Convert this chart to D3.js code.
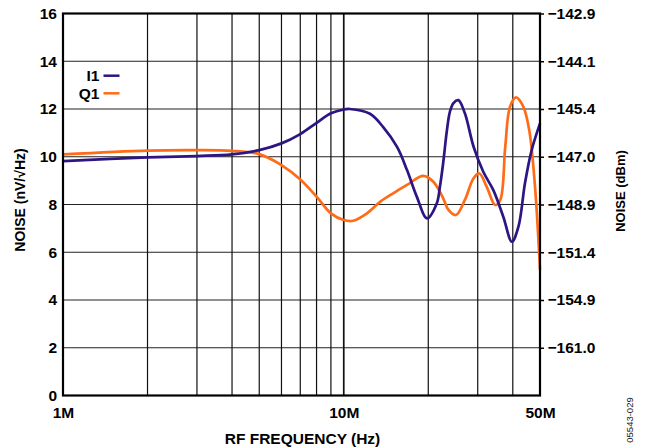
<!DOCTYPE html>
<html>
<head>
<meta charset="utf-8">
<script src="https://cdn.jsdelivr.net/npm/d3@7"></script>
<style>
  html, body { margin: 0; padding: 0; background: #fff; }
  svg { display: block; }
  text { font-family: "Liberation Sans", Arial, Helvetica, sans-serif; }
</style>
</head>
<body>
<svg id="chart" width="645" height="448"></svg>
<script>
// ---- data (frequency in MHz, noise in nV/√Hz) ----
const i1Freq = [1, 2, 3, 4, 5, 6, 7, 8, 9, 10, 10.5, 12.4, 13.8, 15.5, 16.8, 18.2, 19.8, 21.45, 22.0, 22.6, 23.3, 23.9, 24.6, 25.6, 27, 29, 31.4, 34.1, 37, 39.7, 41.9, 44.2, 46.7, 50];
const i1Noise = [9.82, 9.97, 10.03, 10.1, 10.28, 10.56, 10.95, 11.42, 11.82, 11.98, 12.0, 11.8, 11.25, 10.4, 9.44, 8.33, 7.42, 8.05, 8.74, 9.74, 11.1, 11.9, 12.25, 12.37, 11.82, 10.42, 9.37, 8.6, 7.49, 6.44, 7.07, 8.89, 10.28, 11.4];
const q1Freq = [1, 2, 3, 4, 5, 6, 7, 8, 9, 10, 10.8, 12.1, 13.5, 15, 16.8, 19.2, 20.85, 22.6, 23.6, 25.1, 27, 29, 30.4, 32.3, 34.6, 36.1, 37.6, 39.1, 41.1, 43.6, 45.8, 48, 50];
const q1Noise = [10.1, 10.26, 10.28, 10.25, 10.11, 9.65, 9.05, 8.33, 7.63, 7.35, 7.32, 7.63, 8.12, 8.47, 8.82, 9.2, 8.95, 8.26, 7.77, 7.56, 8.19, 9.1, 9.3, 8.74, 7.98, 8.19, 10.42, 12.1, 12.49, 12.1, 11.1, 8.74, 5.26];

const leftTicks = [0, 2, 4, 6, 8, 10, 12, 14, 16];
const rightTickLabels = ["", "\u2212161.0", "\u2212154.9", "\u2212151.4", "\u2212148.9", "\u2212147.0", "\u2212145.4", "\u2212144.1", "\u2212142.9"];
const gridFreqs = [2, 3, 4, 5, 6, 7, 8, 9, 10, 20, 30, 40];
const xTickFreqs = [1, 10, 50];
const xTickLabels = ["1M", "10M", "50M"];
const seriesNames = ["I1", "Q1"];
const seriesColors = ["#2d1683", "#ff6c17"];

// ---- layout ----
const svg = d3.select("#chart");
const margin = { left: 63, right: 105, top: 13.5, bottom: 52.5 };
const W = 645, H = 448;
const x = d3.scaleLog().domain([1, 50]).range([margin.left, W - margin.right]);
const y = d3.scaleLinear().domain([0, 16]).range([H - margin.bottom, margin.top]);
const x0 = x.range()[0], x1 = x.range()[1], y0 = y.range()[0], y1 = y.range()[1];
const FONT = '"Liberation Sans", Arial, sans-serif';

// grid
const g = svg.append("g");
g.selectAll("line.hg").data(leftTicks.slice(1, -1)).enter().append("line")
  .attr("x1", x0).attr("x2", x1)
  .attr("y1", d => y(d)).attr("y2", d => y(d))
  .attr("stroke", "#222").attr("stroke-width", 1.2);
g.selectAll("line.vg").data(gridFreqs).enter().append("line")
  .attr("x1", d => x(d)).attr("x2", d => x(d))
  .attr("y1", y0).attr("y2", y1)
  .attr("stroke", "#111").attr("stroke-width", d => d === 10 ? 1.7 : 1.2);

// curves
const line = d3.line().x(d => x(d[0])).y(d => y(d[1])).curve(d3.curveCatmullRom.alpha(0.5));
const i1Data = i1Freq.map((f, i) => [f, i1Noise[i]]);
const q1Data = q1Freq.map((f, i) => [f, q1Noise[i]]);
svg.append("path").datum(q1Data).attr("d", line)
  .attr("fill", "none").attr("stroke", seriesColors[1]).attr("stroke-width", 2.7);
svg.append("path").datum(i1Data).attr("d", line)
  .attr("fill", "none").attr("stroke", seriesColors[0]).attr("stroke-width", 2.7);

// frame
svg.append("rect").attr("x", x0).attr("y", y1).attr("width", x1 - x0).attr("height", y0 - y1)
  .attr("fill", "none").attr("stroke", "#000").attr("stroke-width", 2.2);

function styleText(sel, size) {
  sel.attr("font-size", size).attr("font-weight", "bold").attr("fill", "#000").style("font-family", FONT);
}

// left axis
const leftAxis = d3.axisLeft(y).tickValues(leftTicks).tickSize(0).tickPadding(6).tickFormat(d3.format("d"));
const la = svg.append("g").attr("transform", `translate(${x0},0)`).call(leftAxis);
la.select(".domain").remove();
styleText(la.selectAll("text"), 15.5);

// right axis
const rightAxis = d3.axisRight(y).tickValues(leftTicks).tickSize(4).tickPadding(3.5)
  .tickFormat((d, i) => rightTickLabels[i]);
const ra = svg.append("g").attr("transform", `translate(${x1},0)`).call(rightAxis);
ra.select(".domain").remove();
ra.selectAll(".tick line").attr("stroke", "#000").attr("stroke-width", 1.5)
  .attr("display", d => d === 0 ? "none" : null);
styleText(ra.selectAll("text"), 15.5);

// bottom axis
const bottomAxis = d3.axisBottom(x).tickValues(xTickFreqs).tickSize(0).tickPadding(11)
  .tickFormat((d, i) => xTickLabels[i]);
const ba = svg.append("g").attr("transform", `translate(0,${y0})`).call(bottomAxis);
ba.select(".domain").remove();
styleText(ba.selectAll("text"), 15.5);

// axis titles
styleText(svg.append("text").attr("x", (x0 + x1) / 2 + 1).attr("y", 444).attr("text-anchor", "middle")
  .text("RF FREQUENCY (Hz)"), 15.5);
styleText(svg.append("text").attr("transform", `translate(25,200) rotate(-90)`).attr("text-anchor", "middle")
  .text("NOISE (nV/\u221AHz)"), 14);
styleText(svg.append("text").attr("transform", `translate(625,191) rotate(-90)`).attr("text-anchor", "middle")
  .text("NOISE (dBm)"), 13);
svg.append("text").attr("transform", `translate(633,420) rotate(-90)`).attr("text-anchor", "middle")
  .attr("font-size", 9.5).attr("fill", "#222").style("font-family", FONT).text("05543-029");

// legend
const leg = svg.append("g");
seriesNames.forEach((name, i) => {
  const ly = 75.7 + i * 17.6;
  styleText(leg.append("text").attr("x", 99.5).attr("y", ly + 5.5).attr("text-anchor", "end").text(name), 15.5);
  leg.append("line").attr("x1", 103.5).attr("x2", 119.5).attr("y1", ly).attr("y2", ly)
    .attr("stroke", seriesColors[i]).attr("stroke-width", 2.5);
});
</script>
</body>
</html>
